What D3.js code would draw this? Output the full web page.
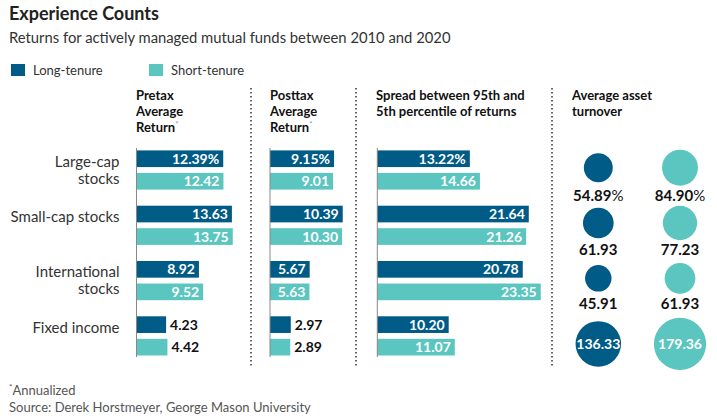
<!DOCTYPE html>
<html><head><meta charset="utf-8">
<script src="https://cdn.jsdelivr.net/npm/d3@7/dist/d3.min.js"></script>
<style>
body{margin:0;background:#fff;}
text{font-family:Lato,"Noto Sans",sans-serif;}
</style></head>
<body><svg id="c" width="717" height="419"></svg>
<script>
const categories = [["Large-cap","stocks"],["Small-cap stocks"],["International","stocks"],["Fixed income"]];
const seriesNames = ["Long-tenure","Short-tenure"];
const pretaxLong = [12.39, 13.63, 8.92, 4.23];
const pretaxShort = [12.42, 13.75, 9.52, 4.42];
const posttaxLong = [9.15, 10.39, 5.67, 2.97];
const posttaxShort = [9.01, 10.30, 5.63, 2.89];
const spreadLong = [13.22, 21.64, 20.78, 10.20];
const spreadShort = [14.66, 21.26, 23.35, 11.07];
const turnoverLong = [54.89, 61.93, 45.91, 136.33];
const turnoverShort = [84.90, 77.23, 61.93, 179.36];
const headers = [["Pretax","Average","Return"],["Posttax","Average","Return"],["Spread between 95th and","5th percentile of returns"],["Average asset","turnover"]];

const colors = ["#005b87","#5bc5c0"];
const svg = d3.select("#c");

// Title
svg.append("text").attr("x",9).attr("y",20).attr("font-size",18).attr("font-weight",700).attr("fill","#222").text("Experience Counts");
svg.append("text").attr("x",9).attr("y",43).attr("font-size",14.8).attr("fill","#333").text("Returns for actively managed mutual funds between 2010 and 2020");

// Legend
const legX = [11,149];
seriesNames.forEach((n,i)=>{
  svg.append("rect").attr("x",legX[i]).attr("y",64).attr("width",14).attr("height",12).attr("fill",colors[i]);
  svg.append("text").attr("x",legX[i]+22).attr("y",75).attr("font-size",13).attr("fill","#333").text(n);
});

// Row scales
const rowKeys = categories.map((c,i)=>i);
const y = d3.scaleBand().domain(rowKeys).range([142.35, 363.55]).padding(0);
const sub = d3.scaleBand().domain([0,1]).range([0,39.2]).paddingInner(0.26);
const rowCenter = i => y(i) + y.bandwidth()/2;
const barY = (i,s) => rowCenter(i) - 19.6 + sub(s);

// Category labels
categories.forEach((lines,i)=>{
  const cy = rowCenter(i);
  lines.forEach((l,j)=>{
    const yy = lines.length > 1 ? cy + (j - 0.5)*17 + 5 : cy - 3;
    svg.append("text").attr("x",119.5).attr("y", yy)
      .attr("text-anchor","end").attr("font-size",15).attr("fill","#333").text(l);
  });
});

// Bar columns
const colX = [136.5, 270, 377.3];
const colData = [[pretaxLong,pretaxShort],[posttaxLong,posttaxShort],[spreadLong,spreadShort]];
colX.forEach((x0,ci)=>{
  const x = d3.scaleLinear().domain([0,25]).range([x0, x0+175]);
  const g = svg.append("g");
  colData[ci].forEach((vals,s)=>{
    vals.forEach((v,i)=>{
      const w = x(v)-x(0);
      const by = barY(i,s);
      g.append("rect").attr("x",x(0)).attr("y",by).attr("width",w).attr("height",sub.bandwidth()).attr("fill",colors[s]);
      const label = d3.format(".2f")(v) + (i===0 && s===0 ? "%" : "");
      const inside = w > 35;
      g.append("text").attr("x", inside ? x(v)-4 : x(v)+4).attr("y", by + sub.bandwidth()/2 + 5)
        .attr("text-anchor", inside ? "end" : "start").attr("font-size",14).attr("font-weight",700)
        .attr("fill", inside ? "#fff" : "#111").text(label);
    });
  });
  g.append("line").attr("x1",x(0)).attr("x2",x(0)).attr("y1",148).attr("y2",357).attr("stroke","#888").attr("stroke-width",1);
});

// Headers
const headX = [136, 270, 376, 572];
headers.forEach((lines,hi)=>{
  lines.forEach((l,j)=>{
    const t = svg.append("text").attr("x",headX[hi]).attr("y",100+j*16).attr("font-size",13).attr("font-weight",700).attr("fill","#111").text(l);
    if (hi<2 && j===2) t.append("tspan").attr("font-size",8).attr("font-weight",400).attr("fill","#999").attr("dy",-5).text("*");
  });
});

// Dotted separators
[251, 356, 552].forEach(sx=>{
  svg.append("line").attr("x1",sx).attr("x2",sx).attr("y1",88).attr("y2",368)
    .attr("stroke","#333").attr("stroke-width",1.5).attr("stroke-dasharray","1.5,2.5");
});

// Turnover circles
const rScale = d3.scaleSqrt().domain([0,200]).range([0, 1.95*Math.sqrt(200)]);
const circX = [598.3, 680];
const turnData = [turnoverLong, turnoverShort];
rowKeys.forEach(i=>{
  const maxR = d3.max(turnData, d=>rScale(d[i]));
  const insideLbl = maxR > 21;
  const cy = insideLbl ? rowCenter(i)+8 : rowCenter(i)-2.3;
  turnData.forEach((d,s)=>{
    const v = d[i];
    svg.append("circle").attr("cx",circX[s]).attr("cy",cy).attr("r",rScale(v)).attr("fill",colors[s]);
    const t = svg.append("text").attr("x",circX[s]).attr("text-anchor","middle").attr("font-size",15).attr("font-weight",700);
    if (insideLbl) {
      t.attr("y",cy+5).attr("fill","#fff").attr("font-size",14).text(d3.format(".2f")(v));
    } else {
      t.attr("y",cy+maxR+15).attr("fill","#111").text(d3.format(".2f")(v));
      if (i===0) t.append("tspan").attr("font-weight",400).text("%");
    }
  });
});

// Footer
const f1 = svg.append("text").attr("x",9).attr("y",395).attr("font-size",13).attr("fill","#555");
f1.append("tspan").attr("font-size",8).attr("dy",-5).text("*");
f1.append("tspan").attr("dy",5).text("Annualized");
svg.append("text").attr("x",9).attr("y",411.5).attr("font-size",13).attr("fill","#555").text("Source: Derek Horstmeyer, George Mason University");
</script></body></html>
